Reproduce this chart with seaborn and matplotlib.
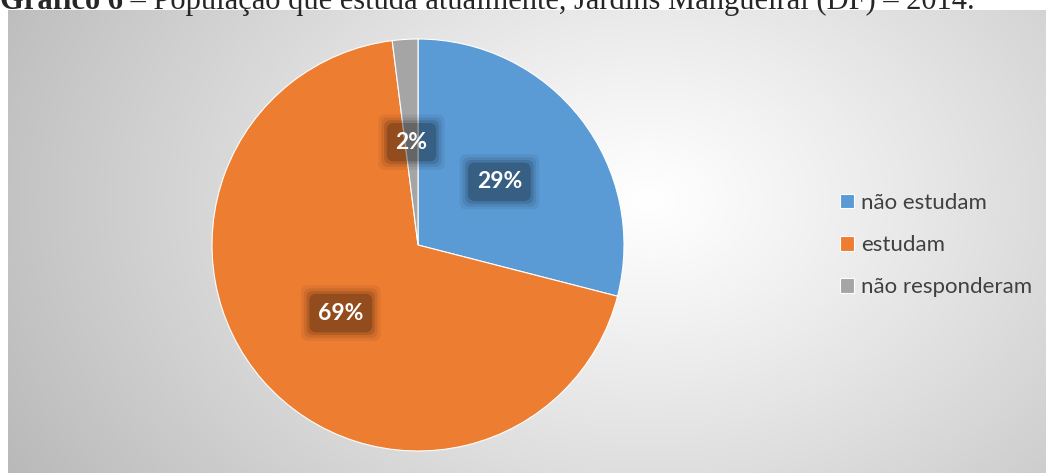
import numpy as np
import matplotlib
matplotlib.use("Agg")
import matplotlib.pyplot as plt
import seaborn as sns

categories = ["não estudam", "estudam", "não responderam"]
values = [29, 69, 2]
colors = ["#5B9BD5", "#ED7D31", "#A5A5A5"]
title_bold = "Gráfico 6"
title_rest = " – População que estuda atualmente, Jardins Mangueiral (DF) – 2014."

sns.set_style("white")
plt.rcParams["font.family"] = ["Lato", "DejaVu Sans"]

W, H = 1046, 473
fig = plt.figure(figsize=(W / 100, H / 100), dpi=100)
fig.patch.set_facecolor("white")

# chart area background with radial gradient
bg = fig.add_axes([8 / W, 0, (W - 8) / W, (H - 10) / H])
yy, xx = np.mgrid[0:463, 0:1038]
cx, cy = 640, 190
d = np.sqrt(((xx - cx) / 700.0) ** 2 + ((yy - cy) / 520.0) ** 2)
g = np.clip(1.0 - 0.26 * d ** 1.1, 0, 1)
img = np.dstack([g, g, g])
bg.imshow(img, aspect="auto", interpolation="bilinear")
bg.set_axis_off()

# pie
cxp, cyp, r = 418, 245, 206
ax = fig.add_axes([(cxp - r) / W, (H - cyp - r) / H, 2 * r / W, 2 * r / H])
ax.set_facecolor("none")
lblfont = dict(fontsize=16.5, fontweight="bold", family=["Lato", "DejaVu Sans"])
wedges, _, autotexts = ax.pie(
    values, colors=colors, startangle=90, counterclock=False,
    autopct=lambda p: f"{p:.0f}%", pctdistance=0.5,
    wedgeprops=dict(linewidth=0.8, edgecolor="white"),
    textprops=dict(color="white", **lblfont),
)
for t in autotexts:
    x, y = t.get_position()
    for pad, a in [(0.75, 0.06), (0.62, 0.08), (0.5, 0.12), (0.38, 0.18)]:
        ax.text(x, y, t.get_text(), ha="center", va="center", color="none",
                bbox=dict(boxstyle=f"round,pad={pad},rounding_size=0.3",
                          fc="black", alpha=a, ec="none"),
                zorder=3, **lblfont)
    t.set_zorder(5)
ax.set_xlim(-1, 1)
ax.set_ylim(-1, 1)
ax.set_aspect("equal")
ax.set_axis_off()

leg = fig.legend(wedges, categories, loc="center left",
                 bbox_to_anchor=(820 / W, 1 - 245 / H), frameon=False,
                 fontsize=16, handlelength=0.65, handleheight=0.65,
                 handletextpad=0.3, labelspacing=1.0, labelcolor="#404040")

# title (clipped at top as in the reference)
tfam = ["Liberation Serif", "DejaVu Serif"]
base_y = 1 - 9 / H
t1 = fig.text(0.0, base_y, title_bold, fontsize=22, fontweight="bold",
              family=tfam, va="baseline", ha="left")
fig.canvas.draw()
bb = t1.get_window_extent()
fig.text(bb.x1 / W, base_y, title_rest, fontsize=22, family=tfam,
         va="baseline", ha="left")

fig.savefig("out.png", dpi=100)
